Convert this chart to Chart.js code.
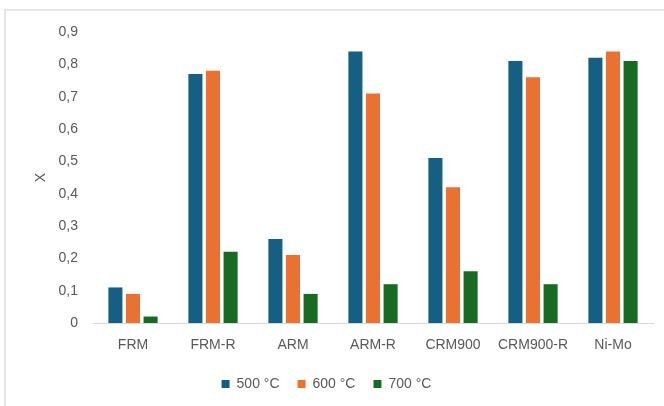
<!DOCTYPE html>
<html>
<head>
<meta charset="utf-8">
<script src="https://cdn.jsdelivr.net/npm/chart.js@4"></script>
<style>
  html, body { margin: 0; padding: 0; background: #fff; overflow: hidden; }
  #frame {
    position: absolute; left: 4px; top: 9px; width: 720px; height: 460px;
    border: 2px solid #e6e6e6;
  }
  #wrap { position: absolute; left: 0; top: 0; width: 664px; height: 406px; }
</style>
</head>
<body>
<div id="frame"></div>
<div id="wrap"><canvas id="chart"></canvas></div>
<script>
const categories = ['FRM', 'FRM-R', 'ARM', 'ARM-R', 'CRM900', 'CRM900-R', 'Ni-Mo']
const seriesNames = ['500 °C', '600 °C', '700 °C']
const values500 = [0.11, 0.77, 0.26, 0.84, 0.51, 0.81, 0.82]
const values600 = [0.09, 0.78, 0.21, 0.71, 0.42, 0.76, 0.84]
const values700 = [0.02, 0.22, 0.09, 0.12, 0.16, 0.12, 0.81]
const yTicks = [0, 0.1, 0.2, 0.3, 0.4, 0.5, 0.6, 0.7, 0.8, 0.9]

const colors = ['#156082', '#E97132', '#196B24']
const textColor = '#595959'
const fontFamily = "'Liberation Sans', Arial, sans-serif"

const ctx = document.getElementById('chart')
new Chart(ctx, {
  type: 'bar',
  data: {
    labels: categories,
    datasets: [values500, values600, values700].map((vals, i) => ({
      label: seriesNames[i],
      data: vals,
      backgroundColor: colors[i],
      categoryPercentage: 0.66,
      barPercentage: 0.8,
    })),
  },
  options: {
    responsive: true,
    maintainAspectRatio: false,
    animation: false,
    layout: { padding: { left: 0, right: 11, top: 32, bottom: 5 } },
    plugins: {
      tooltip: { enabled: false },
      legend: {
        position: 'bottom',
        labels: {
          boxWidth: 8,
          boxHeight: 8,
          padding: 18,
          color: textColor,
          font: { family: fontFamily, size: 14 },
        },
      },
    },
    scales: {
      x: {
        grid: { display: false, drawTicks: false },
        border: { display: true, color: '#d9d9d9', width: 1 },
        ticks: {
          color: textColor,
          padding: 14,
          font: { family: fontFamily, size: 14 },
        },
        afterFit: (scale) => { scale.height = 36 },
      },
      y: {
        min: 0,
        max: 0.9,
        afterBuildTicks: (scale) => {
          scale.ticks = yTicks.map((v) => ({ value: v }))
        },
        grid: { display: false, drawTicks: false },
        border: { display: false },
        ticks: {
          color: textColor,
          padding: 15,
          font: { family: fontFamily, size: 14 },
          callback: (v) => (v === 0 ? '0' : v.toFixed(1).replace('.', ',')),
        },
        title: {
          display: true,
          text: 'X',
          color: textColor,
          padding: { top: 33, bottom: 0 },
          font: { family: fontFamily, size: 14 },
        },
        afterFit: (scale) => { scale.width = 93 },
      },
    },
  },
})
</script>
</body>
</html>
